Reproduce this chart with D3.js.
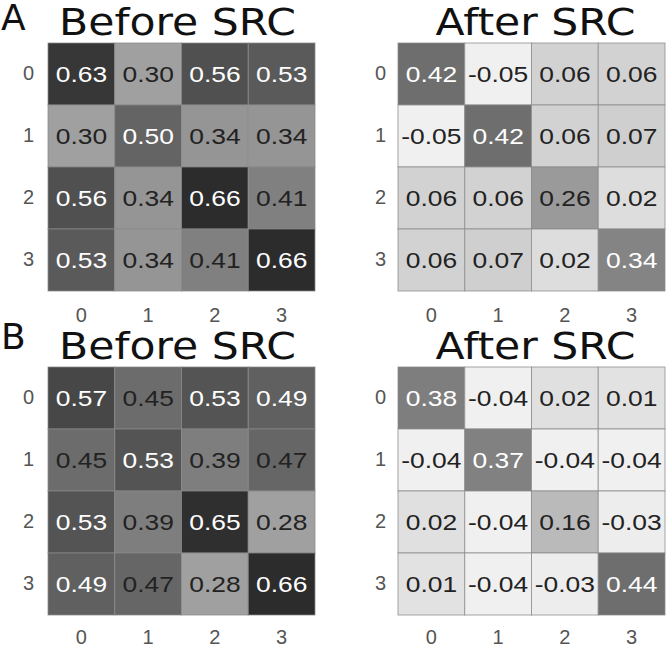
<!DOCTYPE html>
<html>
<head>
<meta charset="utf-8">
<script src="https://cdn.jsdelivr.net/npm/d3@7"></script>
<style>
  html, body { margin: 0; padding: 0; background: #fff; }
  svg { display: block; }
</style>
</head>
<body>
<svg id="chart" width="666" height="648"></svg>
<script>
// ---- data ----
const rowLabels = ["0", "1", "2", "3"];
const colLabels = ["0", "1", "2", "3"];
const panelLetters = ["A", "B"];
const panelTitles = ["Before SRC", "After SRC"];

const beforeA = [
  [0.63, 0.30, 0.56, 0.53],
  [0.30, 0.50, 0.34, 0.34],
  [0.56, 0.34, 0.66, 0.41],
  [0.53, 0.34, 0.41, 0.66]
];
const afterA = [
  [0.42, -0.05, 0.06, 0.06],
  [-0.05, 0.42, 0.06, 0.07],
  [0.06, 0.06, 0.26, 0.02],
  [0.06, 0.07, 0.02, 0.34]
];
const beforeB = [
  [0.57, 0.45, 0.53, 0.49],
  [0.45, 0.53, 0.39, 0.47],
  [0.53, 0.39, 0.65, 0.28],
  [0.49, 0.47, 0.28, 0.66]
];
const afterB = [
  [0.38, -0.04, 0.02, 0.01],
  [-0.04, 0.37, -0.04, -0.04],
  [0.02, -0.04, 0.16, -0.03],
  [0.01, -0.04, -0.03, 0.44]
];

// ---- layout ----
const svg = d3.select("#chart");
const gridW = 267;
const colX = [48, 398];
const rowY = [43, 367];
const gridH = 248;
const titleCenterOffset = [-4, 4];
const locale = d3.formatLocale({ decimal: ".", thousands: ",", grouping: [3], currency: ["", ""], minus: "-" });
const fmt = locale.format(".2f");

const panels = [
  { data: beforeA, kind: 0, c: 0, r: 0, exp: 1.4 },
  { data: afterA,  kind: 1, c: 1, r: 0, exp: 1 },
  { data: beforeB, kind: 0, c: 0, r: 1, exp: 1 },
  { data: afterB,  kind: 1, c: 1, r: 1, exp: 1 }
];

// panel letters
panelLetters.forEach((L, i) => {
  svg.append("text")
    .attr("x", 1)
    .attr("y", i === 0 ? 30 : 349)
    .attr("font-family", "DejaVu Sans, Verdana, sans-serif")
    .attr("font-size", 36)
    .attr("fill", "#111")
    .text(L);
});

panels.forEach(p => {
  const x0 = colX[p.c], y0 = rowY[p.r];
  const x = d3.scaleBand().domain(colLabels).range([x0, x0 + gridW]);
  const y = d3.scaleBand().domain(rowLabels).range([y0, y0 + gridH]);
  const flat = p.data.flat();
  const ext = d3.extent(flat);
  const gray = p.kind === 0
    ? d3.scalePow().exponent(p.exp).domain(ext).range([160, 44])
    : d3.scaleLinear().domain(ext).range([240, 110]);
  const whiteThreshold = p.kind === 0 ? 0.48 : 0.30;

  const cells = [];
  p.data.forEach((row, i) => row.forEach((v, j) => cells.push({ i, j, v })));

  const g = svg.append("g");
  g.selectAll("rect").data(cells).enter().append("rect")
    .attr("x", d => x(colLabels[d.j]))
    .attr("y", d => y(rowLabels[d.i]))
    .attr("width", x.bandwidth())
    .attr("height", y.bandwidth())
    .attr("fill", d => { const c = Math.round(gray(d.v)); return d3.rgb(c, c, c); })
    .attr("stroke", "#8a8a8a")
    .attr("stroke-opacity", 0.75)
    .attr("stroke-width", 1);

  g.selectAll("text.val").data(cells).enter().append("text")
    .attr("class", "val")
    .attr("transform", d => `translate(${x(colLabels[d.j]) + x.bandwidth() / 2},${y(rowLabels[d.i]) + y.bandwidth() / 2}) scale(1.2,1)`)
    .attr("dy", "0.36em")
    .attr("text-anchor", "middle")
    .attr("font-family", "Liberation Sans, Arial, Helvetica, sans-serif")
    .attr("font-size", 22)
    .attr("fill", d => d.v > whiteThreshold ? "#fff" : "#222")
    .text(d => fmt(d.v));

  // axes
  const ay = svg.append("g")
    .attr("transform", `translate(${x0},0)`)
    .call(d3.axisLeft(y).tickSize(0).tickPadding(p.c === 0 ? 14 : 12));
  const ax = svg.append("g")
    .attr("transform", `translate(0,${y0 + gridH})`)
    .call(d3.axisBottom(x).tickSize(0).tickPadding(p.r === 0 ? 17 : 15));
  [ax, ay].forEach(a => {
    a.attr("font-size", null).attr("font-family", null);
    a.select(".domain").remove();
    a.selectAll("text")
      .style("font-family", "Liberation Sans, Arial, Helvetica, sans-serif")
      .style("font-size", "20px")
      .attr("fill", "#555");
  });

  // title
  const tcx = x0 + gridW / 2 + titleCenterOffset[p.c];
  svg.append("text")
    .attr("transform", `translate(${tcx},${y0 - 8}) scale(1.12,1)`)
    .attr("text-anchor", "middle")
    .attr("font-family", "DejaVu Sans, Verdana, sans-serif")
    .attr("font-size", 38)
    .attr("fill", "#111")
    .text(panelTitles[p.kind]);
});
</script>
</body>
</html>
